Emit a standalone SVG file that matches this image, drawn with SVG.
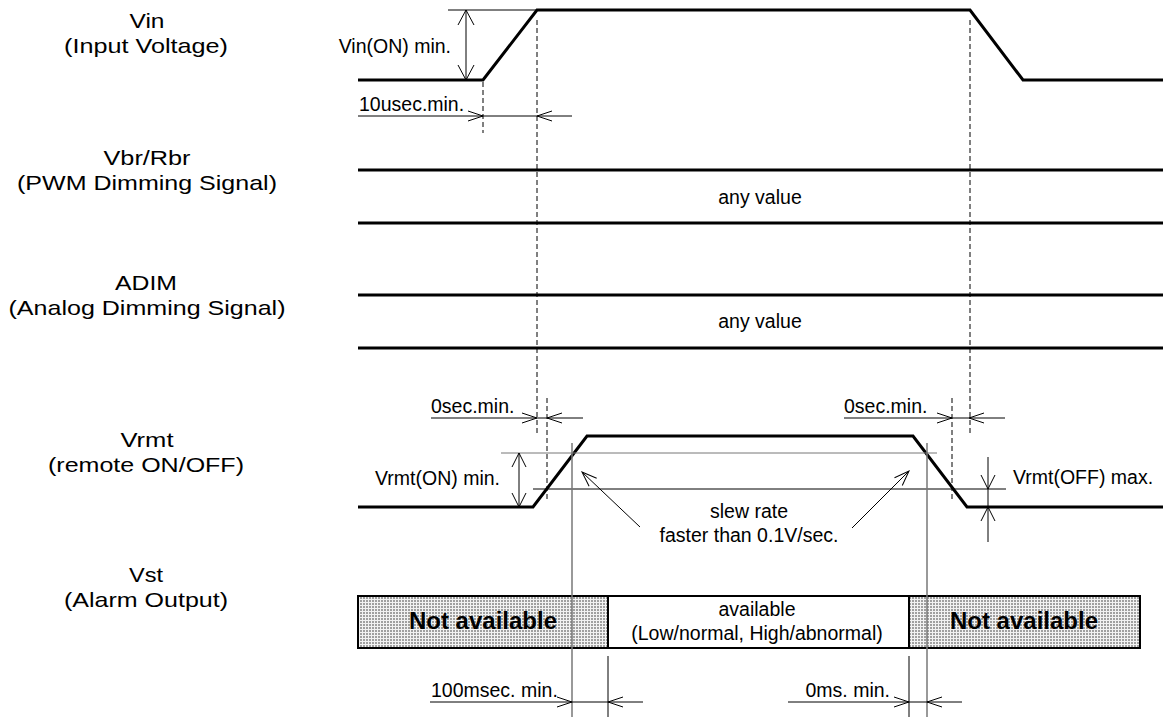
<svg xmlns="http://www.w3.org/2000/svg" width="1163" height="717" viewBox="0 0 1163 717">
<defs>
<style>
.lbl{font-family:"Liberation Sans",Arial,sans-serif;font-size:21px;fill:#000;text-anchor:middle}
.t{font-family:"Liberation Sans",Arial,sans-serif;font-size:19.5px;fill:#000}
.b{font-family:"Liberation Sans",Arial,sans-serif;font-size:24px;font-weight:bold;fill:#000;text-anchor:middle}
.sig{fill:none;stroke:#000;stroke-width:3;stroke-linejoin:miter}
.thin{fill:none;stroke:#000;stroke-width:1}
.grey{fill:none;stroke:#777;stroke-width:1.5}
.dash{fill:none;stroke:#000;stroke-width:1;stroke-dasharray:5,3}
.ah{fill:none;stroke:#000;stroke-width:1}
</style>
<pattern id="dots" width="3" height="3" patternUnits="userSpaceOnUse">
<rect width="3" height="3" fill="#f2f2f2"/>
<rect width="2" height="2" fill="#a0a0a0"/>
</pattern>
<marker id="open" viewBox="-16 -7 18 14" markerWidth="18" markerHeight="14" refX="0" refY="0" orient="auto" markerUnits="userSpaceOnUse">
<path d="M-15,-5.5 L0,0 L-15,5.5" fill="none" stroke="#000" stroke-width="1"/>
</marker>
</defs>

<g id="labels">
<g id="lbl-vin"><text class="lbl" x="147" y="28" textLength="35" lengthAdjust="spacingAndGlyphs">Vin</text><text class="lbl" x="146" y="53" textLength="164" lengthAdjust="spacingAndGlyphs">(Input Voltage)</text></g>
<g id="lbl-vbr"><text class="lbl" x="147" y="165" textLength="87" lengthAdjust="spacingAndGlyphs">Vbr/Rbr</text><text class="lbl" x="147" y="190" textLength="260" lengthAdjust="spacingAndGlyphs">(PWM Dimming Signal)</text></g>
<g id="lbl-adim"><text class="lbl" x="146" y="290" textLength="62" lengthAdjust="spacingAndGlyphs">ADIM</text><text class="lbl" x="147" y="315" textLength="277" lengthAdjust="spacingAndGlyphs">(Analog Dimming Signal)</text></g>
<g id="lbl-vrmt"><text class="lbl" x="147" y="447" textLength="53" lengthAdjust="spacingAndGlyphs">Vrmt</text><text class="lbl" x="146" y="472" textLength="196" lengthAdjust="spacingAndGlyphs">(remote ON/OFF)</text></g>
<g id="lbl-vst"><text class="lbl" x="146" y="582" textLength="34" lengthAdjust="spacingAndGlyphs">Vst</text><text class="lbl" x="146" y="607" textLength="164" lengthAdjust="spacingAndGlyphs">(Alarm Output)</text></g>
</g>

<g id="vin">
<polyline class="sig" points="358,80 483,80 537,10 970,10 1023,80 1163,80"/>
<text class="t" x="451" y="53" text-anchor="end">Vin(ON) min.</text>
<text class="t" x="359" y="111">10usec.min.</text>
</g>

<g id="vbr">
<line class="sig" x1="358" y1="170" x2="1163" y2="170"/>
<line class="sig" x1="358" y1="223" x2="1163" y2="223"/>
<text class="t" x="760" y="204" text-anchor="middle">any value</text>
</g>

<g id="adim">
<line class="sig" x1="358" y1="295" x2="1163" y2="295"/>
<line class="sig" x1="358" y1="348" x2="1163" y2="348"/>
<text class="t" x="760" y="328" text-anchor="middle">any value</text>
</g>

<g id="vrmt">
<polyline class="sig" points="358,507 533,507 587,436 913,436 967,507 1163,507"/>
<text class="t" x="431" y="413">0sec.min.</text>
<text class="t" x="844" y="413">0sec.min.</text>
<text class="t" x="500" y="485" text-anchor="end">Vrmt(ON) min.</text>
<text class="t" x="1013" y="484">Vrmt(OFF) max.</text>
<text class="t" x="749" y="518" text-anchor="middle">slew rate</text>
<text class="t" x="749" y="542" text-anchor="middle">faster than 0.1V/sec.</text>
</g>

<g id="vst">
<rect x="358" y="596" width="250" height="52" fill="url(#dots)"/>
<rect x="909" y="596" width="231" height="52" fill="url(#dots)"/>
<rect x="358" y="596" width="782" height="52" fill="none" stroke="#000" stroke-width="2"/>
<line x1="608" y1="596" x2="608" y2="648" stroke="#000" stroke-width="2"/>
<line x1="909" y1="596" x2="909" y2="648" stroke="#000" stroke-width="2"/>
<text class="b" x="483" y="629">Not available</text>
<text class="b" x="1024" y="629">Not available</text>
<text class="t" x="757" y="616" text-anchor="middle">available</text>
<text class="t" x="757" y="640" text-anchor="middle">(Low/normal, High/abnormal)</text>
<text class="t" x="431" y="697">100msec. min.</text>
<text class="t" x="890" y="697" text-anchor="end">0ms. min.</text>
</g>

<g id="connectors">
<line class="thin" x1="448" y1="10" x2="537" y2="10"/>
<line class="thin" x1="466" y1="10" x2="466" y2="80"/>
<polyline class="ah" points="458,25 466,10 474,25"/>
<polyline class="ah" points="458,65 466,80 474,65"/>
<line class="dash" x1="483" y1="82" x2="483" y2="133"/>
<line class="dash" x1="537" y1="20" x2="537" y2="436"/>
<line class="dash" x1="970" y1="20" x2="970" y2="436"/>
<line class="thin" x1="358" y1="116" x2="572" y2="116"/>
<polyline class="ah" points="468,111 483,116 468,121"/>
<polyline class="ah" points="552,111 537,116 552,121"/>

<line class="dash" x1="547" y1="398" x2="547" y2="499"/>
<line class="dash" x1="952" y1="398" x2="952" y2="499"/>
<line class="thin" x1="431" y1="418" x2="583" y2="418"/>
<polyline class="ah" points="522,413 537,418 522,423"/>
<polyline class="ah" points="562,413 547,418 562,423"/>
<line class="thin" x1="844" y1="418" x2="1005" y2="418"/>
<polyline class="ah" points="937,413 952,418 937,423"/>
<polyline class="ah" points="984,413 969,418 984,423"/>

<line class="grey" x1="501" y1="453" x2="937" y2="453" style="stroke-width:1"/>
<line class="thin" x1="533" y1="489" x2="1006" y2="489"/>
<line class="thin" x1="519" y1="453" x2="519" y2="507"/>
<polyline class="ah" points="512,467 519,453 526,467"/>
<polyline class="ah" points="512,493 519,507 526,493"/>

<line class="thin" x1="988" y1="457" x2="988" y2="542"/>
<polyline class="ah" points="981,475 988,489 995,475"/>
<polyline class="ah" points="981,521 988,507 995,521"/>

<line class="thin" x1="640" y1="527" x2="582" y2="472" marker-end="url(#open)"/>
<line class="thin" x1="852" y1="528" x2="909" y2="471" marker-end="url(#open)"/>

<line class="grey" x1="572" y1="443" x2="572" y2="717"/>
<line class="grey" x1="927" y1="443" x2="927" y2="717"/>

<line class="thin" x1="608" y1="656" x2="608" y2="717"/>
<line class="thin" x1="909" y1="656" x2="909" y2="717"/>
<line class="thin" x1="430" y1="702" x2="643" y2="702"/>
<polyline class="ah" points="557,697 572,702 557,707"/>
<polyline class="ah" points="623,697 608,702 623,707"/>
<line class="thin" x1="788" y1="702" x2="962" y2="702"/>
<polyline class="ah" points="894,697 909,702 894,707"/>
<polyline class="ah" points="942,697 927,702 942,707"/>
</g>
</svg>
